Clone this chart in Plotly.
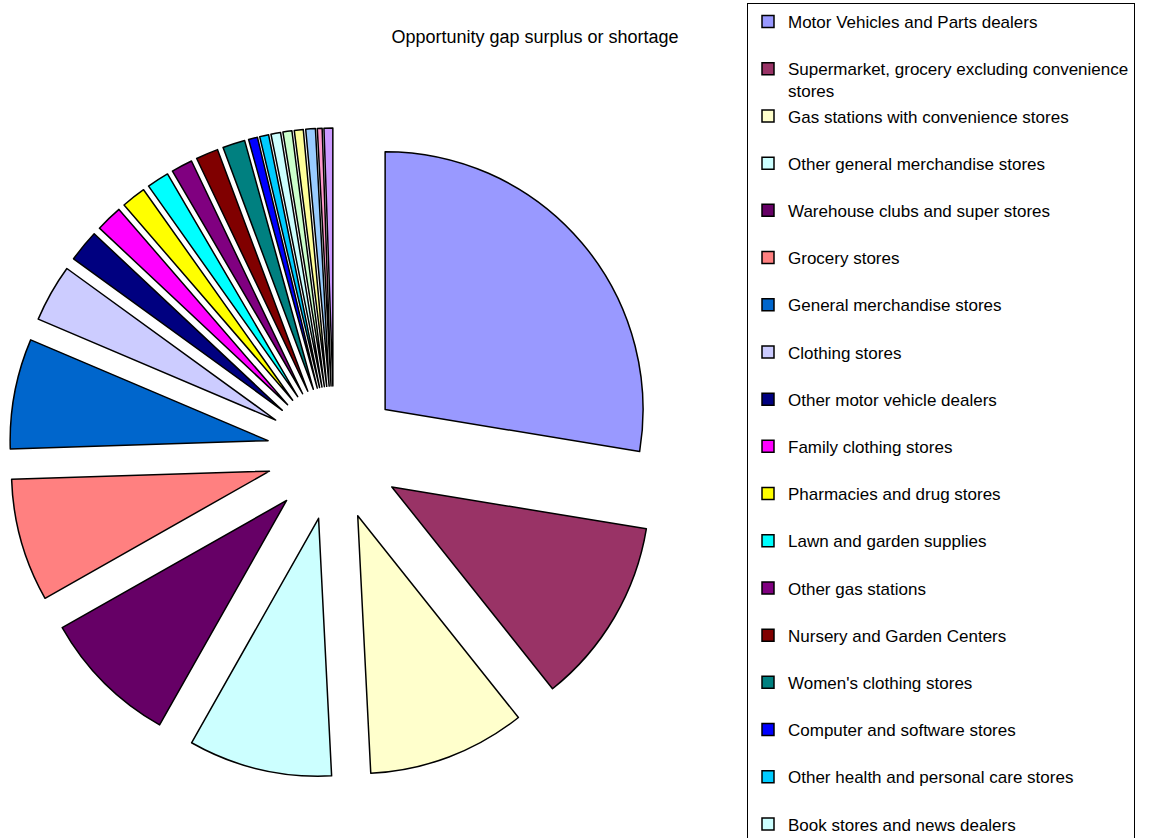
import plotly.graph_objects as go

categories = [
    "Motor Vehicles and Parts dealers",
    "Supermarket, grocery excluding convenience<br>stores",
    "Gas stations with convenience stores",
    "Other general merchandise stores",
    "Warehouse clubs and super stores",
    "Grocery stores",
    "General merchandise stores",
    "Clothing stores",
    "Other motor vehicle dealers",
    "Family clothing stores",
    "Pharmacies and drug stores",
    "Lawn and garden supplies",
    "Other gas stations",
    "Nursery and Garden Centers",
    "Women's clothing stores",
    "Computer and software stores",
    "Other health and personal care stores",
    "Book stores and news dealers",
    "Shoe stores",
    "Jewelry stores",
    "Sporting goods stores",
    "Gift, novelty and souvenir stores",
    "Beer, wine and liquor stores",
]

values = [27.6, 11.7, 9.9, 9.0, 8.6, 7.7, 6.9, 3.6, 2.0, 1.67, 1.53, 1.39, 1.33,
          1.4, 1.4, 0.56, 0.56, 0.6, 0.56, 0.56, 0.6, 0.3, 0.55]

colors = ["#9999FF", "#993366", "#FFFFCC", "#CCFFFF", "#660066", "#FF8080",
          "#0066CC", "#CCCCFF", "#000080", "#FF00FF", "#FFFF00", "#00FFFF",
          "#800080", "#800000", "#008080", "#0000FF", "#00CCFF", "#CCFFFF",
          "#CCFFCC", "#FFFF99", "#99CCFF", "#FF99CC", "#CC99FF"]

legend_labels = [c if "<br>" in c else c + "<br> " for c in categories]

W, H = 1156, 838
fig = go.Figure(go.Pie(
    labels=legend_labels,
    values=values,
    sort=False,
    direction="clockwise",
    rotation=0,
    pull=0.26,
    textinfo="none",
    hoverinfo="label+value",
    marker=dict(colors=colors, line=dict(color="black", width=1.5)),
    domain=dict(x=[9 / W, 659 / W], y=[1 - 778 / H, 1 - 128 / H]),
))

fig.update_layout(
    width=W, height=H,
    margin=dict(l=0, r=0, t=0, b=0, autoexpand=False),
    paper_bgcolor="white",
    font=dict(family="Liberation Sans, Arial, sans-serif", color="black"),
    title=dict(text="Opportunity gap surplus or shortage", x=535 / W, xanchor="center",
               y=1 - 37 / H, yanchor="middle", font=dict(size=18)),
    legend=dict(x=747 / W, xanchor="left", y=1 - 3 / H, yanchor="top",
                bordercolor="black", borderwidth=1, bgcolor="white",
                font=dict(size=17), valign="top", itemwidth=30, maxheight=2000),
)

fig.write_html("out.html", config={"displayModeBar": False},
               post_script="document.body.style.margin='0';document.body.style.overflow='hidden';")
